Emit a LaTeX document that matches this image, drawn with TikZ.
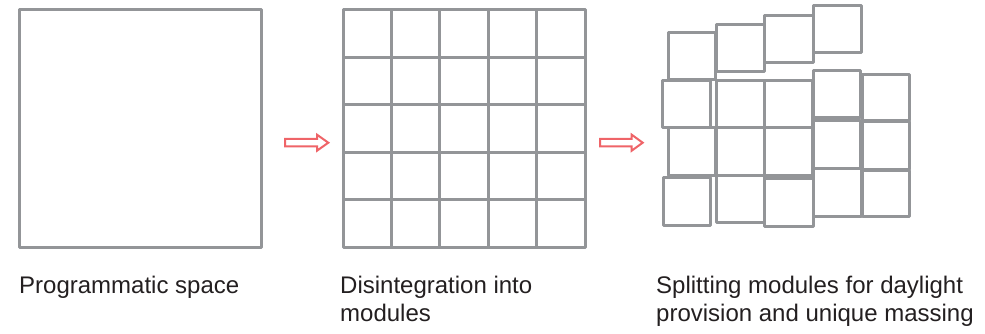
\documentclass[tikz,border=0pt]{standalone}
\usepackage{fontspec}
\setmainfont{Liberation Sans}
\definecolor{modgray}{HTML}{939598}
\definecolor{arrowred}{HTML}{EF6468}
\definecolor{inkgray}{HTML}{231F20}
\tikzset{
  module/.style={draw=modgray, line width=3pt, line join=round},
  caption/.style={anchor=base west, inner sep=0pt, text=inkgray, align=left,
    font=\fontsize{24}{28.4}\selectfont},
  fatarrow/.style={draw=arrowred, line width=2pt, line join=miter, fill=white}
}
\begin{document}
\begin{tikzpicture}[x=1pt, y=-1pt]
\useasboundingbox (0,0) rectangle (985,334);

% stage 1: single programmatic volume
\draw[module] (19,10) rectangle (261,247);

% stage 2: regular 5 x 5 grid of modules
\draw[module] (343,10) rectangle (585,247);
\foreach \x in {391.4,439.8,488.2,536.6}
  \draw[module] (\x,10) -- (\x,247);
\foreach \y in {57.4,104.8,152.2,199.6}
  \draw[module] (343,\y) -- (585,\y);

% stage 3: shifted modules
\foreach \xa/\ya/\xb/\yb in {
  668/33/715/80, 716/25/764.5/71.5, 764.5/15.5/813/62.5, 813/5.5/861/53,
  662/80.5/710/128, 716/80.5/764.5/128, 764.5/80.5/812.5/128, 813/71/860.5/118, 862/75/909/121,
  668/128/715/175, 716/128/764.5/175, 764.5/128/812.5/175, 813/121/860.5/168.5, 862/121.5/909/169,
  663/177/710/225, 716/175.5/764.5/222.5, 764.5/178.5/813/226.5, 813/168.5/861/216, 862/170/909/216}
  \draw[module] (\xa,\ya) rectangle (\xb,\yb);

% hollow arrows between stages
\foreach \s/\h/\t in {285/317/328.3, 600/631.7/642.7}
  \draw[fatarrow] (\s,139) -- (\h,139) -- (\h,134.7) -- (\t,142.7)
    -- (\h,150.7) -- (\h,146.3) -- (\s,146.3) -- cycle;

% captions (multi-line nodes are anchored on their last baseline)
\node[caption] (c1) at (19,293.3) {Programmatic space};
\node[caption] (c2) at (340,321.7) {Disintegration into\\modules};
\node[caption] (c3) at (656,321.7) {Splitting modules for daylight\\provision and unique massing};
\end{tikzpicture}
\end{document}
